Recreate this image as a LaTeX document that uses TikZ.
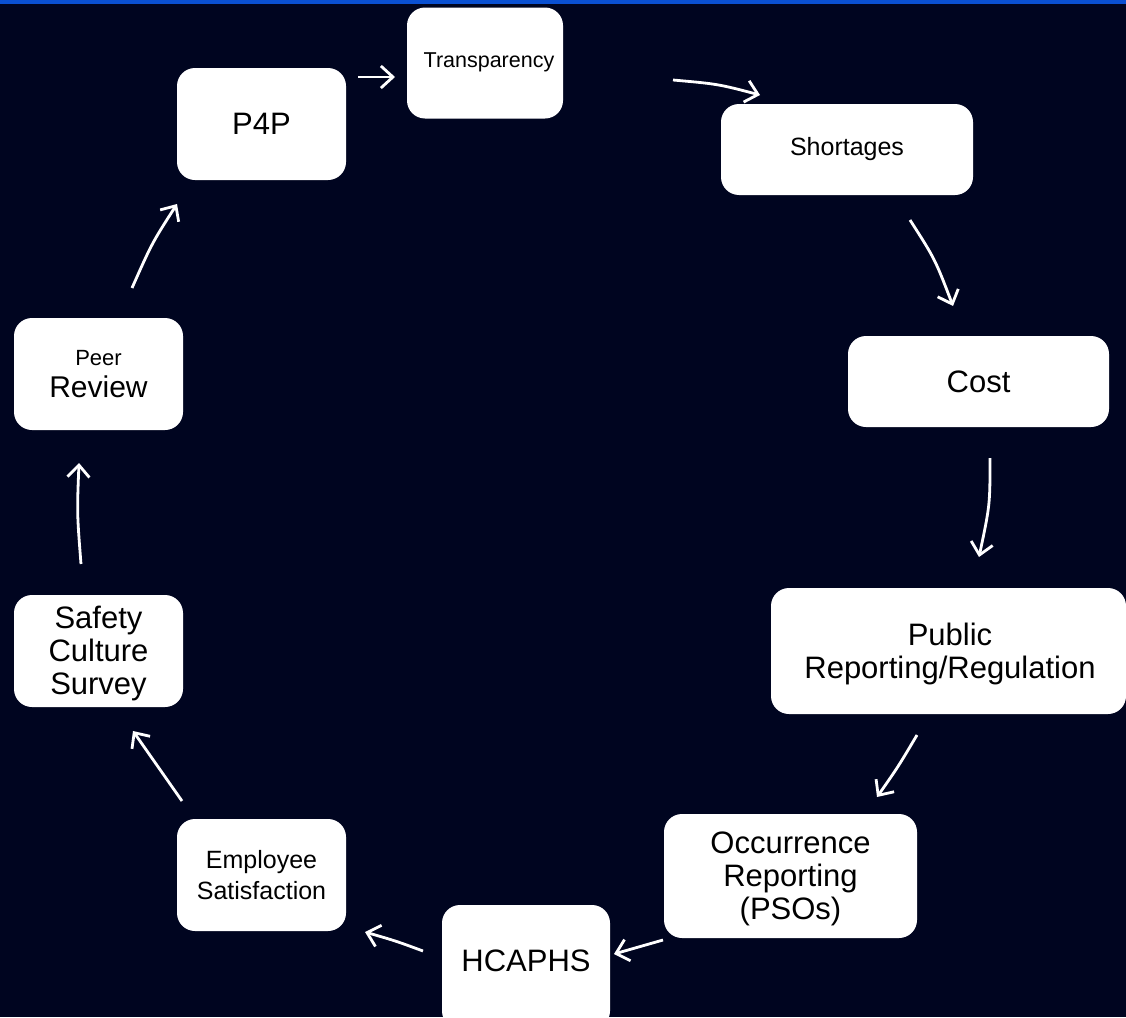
\documentclass[tikz,border=0pt]{standalone}
\usepackage{fontspec}
\setmainfont{Liberation Sans}
\usetikzlibrary{arrows.meta}
\definecolor{bgnavy}{RGB}{0,5,32}
\definecolor{topblue}{RGB}{10,80,210}
\tikzset{
  box/.style={draw=none, fill=white, rounded corners=18pt, align=center, text=black, inner sep=0pt},
  txt/.style={align=center, text=black, inner sep=0pt},
  flow/.style={draw=white, line width=2.8pt, -{Straight Barb[length=12pt,width=22pt]}},
  big/.style={font=\fontsize{31}{33}\selectfont},
  small/.style={font=\fontsize{25}{31}\selectfont}
}
\begin{document}
\begin{tikzpicture}[x=1pt,y=-1pt]
\fill[bgnavy] (0,0) rectangle (1126,1017);
\fill[topblue] (0,0) rectangle (1126,3.5);
\useasboundingbox (0,0) rectangle (1126,1017);

\node[box,minimum width=156pt,minimum height=111pt] (trans) at (485,63) {};
\node[txt,font=\fontsize{21.5}{25}\selectfont] (transtext) at (489,62) {Transparency};
\node[box,big,minimum width=169pt,minimum height=112pt] (p4p) at (261.5,124) {P4P};
\node[box,small,minimum width=252pt,minimum height=91pt] (short) at (847,149.5) {Shortages};
\node[box,big,minimum width=261pt,minimum height=91pt] (cost) at (978.5,381.5) {Cost};
\node[box,minimum width=355pt,minimum height=126pt] (public) at (948.5,651) {};
\node[txt,big] (publictext) at (950,654) {Public\\Reporting/Regulation};
\node[box,minimum width=253pt,minimum height=124pt] (occ) at (790.5,876) {};
\node[txt,big] (occtext) at (790.5,879) {Occurrence\\Reporting\\(PSOs)};
\node[box,minimum width=168pt,minimum height=124pt] (hcaphs) at (526,967) {};
\node[txt,big] (hcaphstext) at (526,961) {HCAPHS};
\node[box,small,minimum width=169pt,minimum height=112pt] (emp) at (261.5,875) {Employee\\Satisfaction};
\node[box,minimum width=169pt,minimum height=112pt] (safety) at (98.5,651) {};
\node[txt,big] (safetytext) at (98.5,653) {Safety\\Culture\\Survey};
\node[box,font=\fontsize{30}{32}\selectfont,minimum width=169pt,minimum height=112pt] (peer) at (98.5,374) {{\fontsize{22}{22}\selectfont Peer}\\Review};

% arrow end points
\coordinate (a1s) at (358,77);  \coordinate (a1e) at (395,77);
\coordinate (a2s) at (673,80);  \coordinate (a2e) at (760,95);
\coordinate (a3s) at (910,220); \coordinate (a3e) at (953,306);
\coordinate (a4s) at (990,458); \coordinate (a4e) at (979,557);
\coordinate (a5s) at (917,735); \coordinate (a5e) at (877,797);
\coordinate (a6s) at (663,940); \coordinate (a6e) at (614,954);
\coordinate (a7s) at (423,951); \coordinate (a7e) at (365,932);
\coordinate (a8s) at (182,801); \coordinate (a8e) at (133,731);
\coordinate (a9s) at (81,564);  \coordinate (a9e) at (79,463);
\coordinate (a10s) at (132,288); \coordinate (a10e) at (177,204);

\draw[flow] (a1s) -- (a1e);
\draw[flow] (a2s) .. controls (718,84) .. (a2e);
\draw[flow] (a3s) .. controls (935,259) .. (a3e);
\draw[flow] (a4s) .. controls (990,505) .. (a4e);
\draw[flow] (a5s) .. controls (898,767) .. (a5e);
\draw[flow] (a6s) -- (a6e);
\draw[flow] (a7s) .. controls (396,941) .. (a7e);
\draw[flow] (a8s) .. controls (158,767) .. (a8e);
\draw[flow] (a9s) .. controls (77,513) .. (a9e);
\draw[flow] (a10s) .. controls (152,243) .. (a10e);
\end{tikzpicture}
\end{document}
